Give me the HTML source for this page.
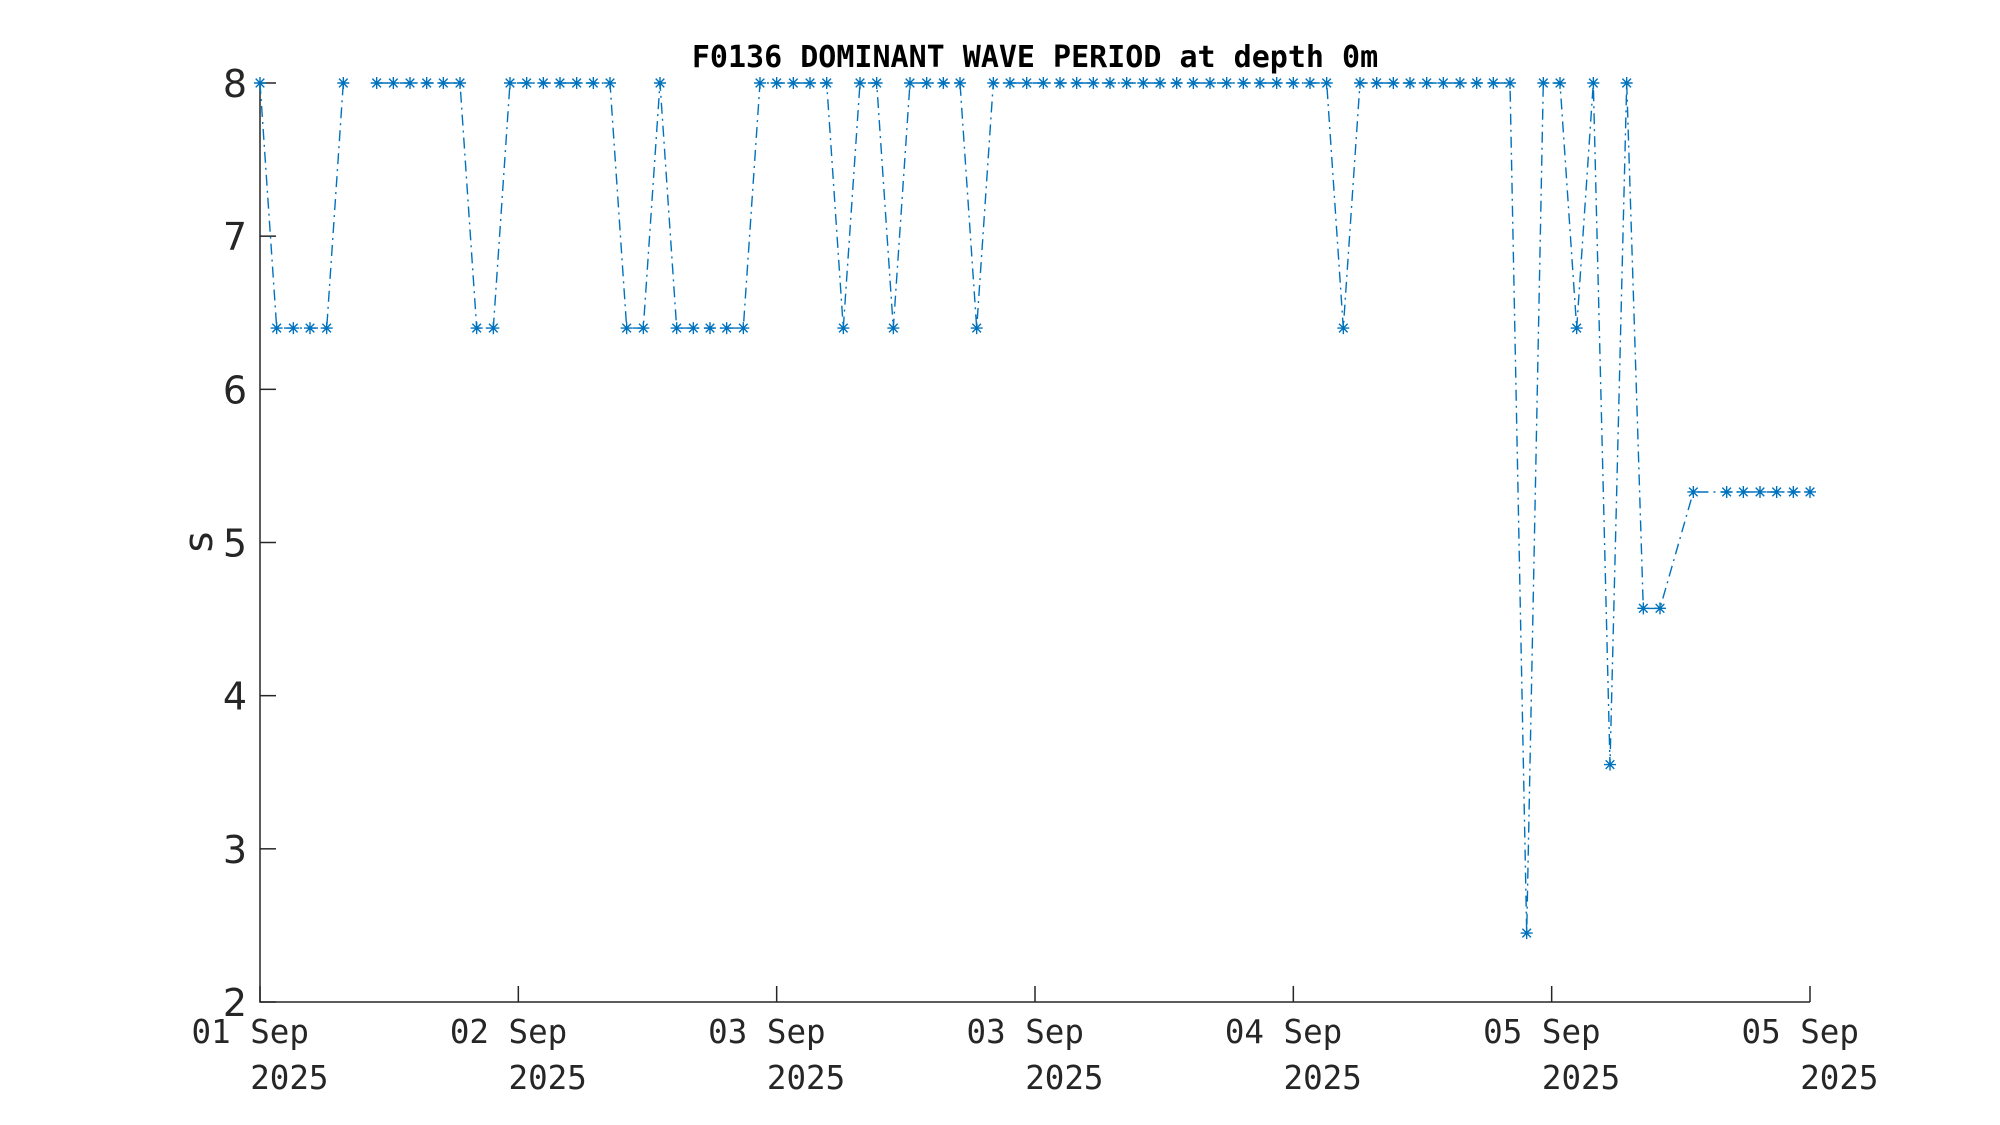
<!DOCTYPE html>
<html><head><meta charset="utf-8"><style>
html,body{margin:0;padding:0;background:#fff;}
svg{display:block;}
</style></head><body>
<svg id="chart" width="2000" height="1125" viewBox="0 0 2000 1125" xmlns="http://www.w3.org/2000/svg">
<rect width="2000" height="1125" fill="#fff"/>
<text x="1035" y="67" text-anchor="middle" font-family="DejaVu Sans Mono, Liberation Mono, monospace" font-weight="bold" font-size="30" fill="#000">F0136 DOMINANT WAVE PERIOD at depth 0m</text>
<text transform="translate(212,542) rotate(-90)" text-anchor="middle" font-family="DejaVu Sans, Liberation Sans, sans-serif" font-size="40" fill="#262626">s</text>
<g id="axes"></g>
<g id="series"></g>
</svg>
<script>
// time index of each observation (hourly-ish slots)
const times = [0,1,2,3,4,5,6,7,8,9,10,11,12,13,14,15,16,17,18,19,20,21,22,23,24,25,26,27,28,29,30,31,32,33,34,35,36,37,38,39,40,41,42,43,44,45,46,47,48,49,50,51,52,53,54,55,56,57,58,59,60,61,62,63,64,65,66,67,68,69,70,71,72,73,74,75,76,77,78,79,80,81,82,83,84,86,88,89,90,91,92,93];
const values = [8,6.4,6.4,6.4,6.4,8,null,8,8,8,8,8,8,6.4,6.4,8,8,8,8,8,8,8,6.4,6.4,8,6.4,6.4,6.4,6.4,6.4,8,8,8,8,8,6.4,8,8,6.4,8,8,8,8,6.4,8,8,8,8,8,8,8,8,8,8,8,8,8,8,8,8,8,8,8,8,8,6.4,8,8,8,8,8,8,8,8,8,8,2.45,8,8,6.4,8,3.55,8,4.57,4.57,5.33,5.33,5.33,5.33,5.33,5.33,5.33];
const xTickPos = [0,15.5,31,46.5,62,77.5,93];
const xTickLine1 = ["01 Sep ","02 Sep ","03 Sep ","03 Sep ","04 Sep ","05 Sep ","05 Sep "];
const xTickLine2 = ["   2025","   2025","   2025","   2025","   2025","   2025","   2025"];
const yTicks = [2,3,4,5,6,7,8];

const NS="http://www.w3.org/2000/svg";
const X0=260, X1=1810, Y0=1002, Y1=83, TMIN=0, TMAX=93, VMIN=2, VMAX=8;
function xs(t){return X0+(t-TMIN)/(TMAX-TMIN)*(X1-X0);}
function ys(v){return Y0-(v-VMIN)/(VMAX-VMIN)*(Y0-Y1);}
function mk(tag,attrs,parent){const e=document.createElementNS(NS,tag);for(const k in attrs)e.setAttribute(k,attrs[k]);parent.appendChild(e);return e;}

const axes=document.getElementById('axes');
const ax=mk('path',{d:`M${X0},${Y1} L${X0},${Y0} L${X1},${Y0}`,fill:'none',stroke:'#262626','stroke-width':1.5},axes);


yTicks.forEach(v=>{
  const y=ys(v);
  const t=mk('line',{x1:X0,y1:y,x2:X0+16,y2:y,stroke:'#262626','stroke-width':1.5},axes);
  
  
  const l=mk('text',{x:247,y:y+14,'text-anchor':'end','font-family':'DejaVu Sans, Liberation Sans, sans-serif','font-size':38,fill:'#262626'},axes);
  l.textContent=String(v);
  
  
});
xTickPos.forEach((t,i)=>{
  const x=xs(t);
  const tk=mk('line',{x1:x,y1:Y0,x2:x,y2:Y0-16,stroke:'#262626','stroke-width':1.5},axes);
  
  
  const l=mk('text',{x:x,y:1043,'text-anchor':'middle','font-family':'DejaVu Sans Mono, Liberation Mono, monospace','font-size':32.5,fill:'#262626'},axes);
  l.setAttribute('xml:space','preserve');
  l.style.whiteSpace='pre';
  
  
  const s1=mk('tspan',{x:x,y:1043},l); s1.textContent=xTickLine1[i];
  const s2=mk('tspan',{x:x,y:1089},l); s2.textContent=xTickLine2[i];
});

const ser=document.getElementById('series');
let d='', pen=false;
times.forEach((t,i)=>{
  const v=values[i];
  if(v===null){pen=false;return;}
  d+=(pen?'L':'M')+xs(t).toFixed(1)+','+ys(v).toFixed(1)+' ';
  pen=true;
});
const line=mk('path',{d:d,fill:'none',stroke:'#0072BD','stroke-width':1.4,'stroke-dasharray':'11 5 2 5'},ser);


const r=6;
times.forEach((t,i)=>{
  const v=values[i];
  if(v===null)return;
  const x=xs(t), y=ys(v), q=r*0.72;
  const m=mk('path',{d:`M${x-r},${y}L${x+r},${y}M${x},${y-r}L${x},${y+r}M${x-q},${y-q}L${x+q},${y+q}M${x-q},${y+q}L${x+q},${y-q}`,stroke:'#0072BD','stroke-width':1.4,fill:'none'},ser);
  
  
});
</script>
</body></html>
